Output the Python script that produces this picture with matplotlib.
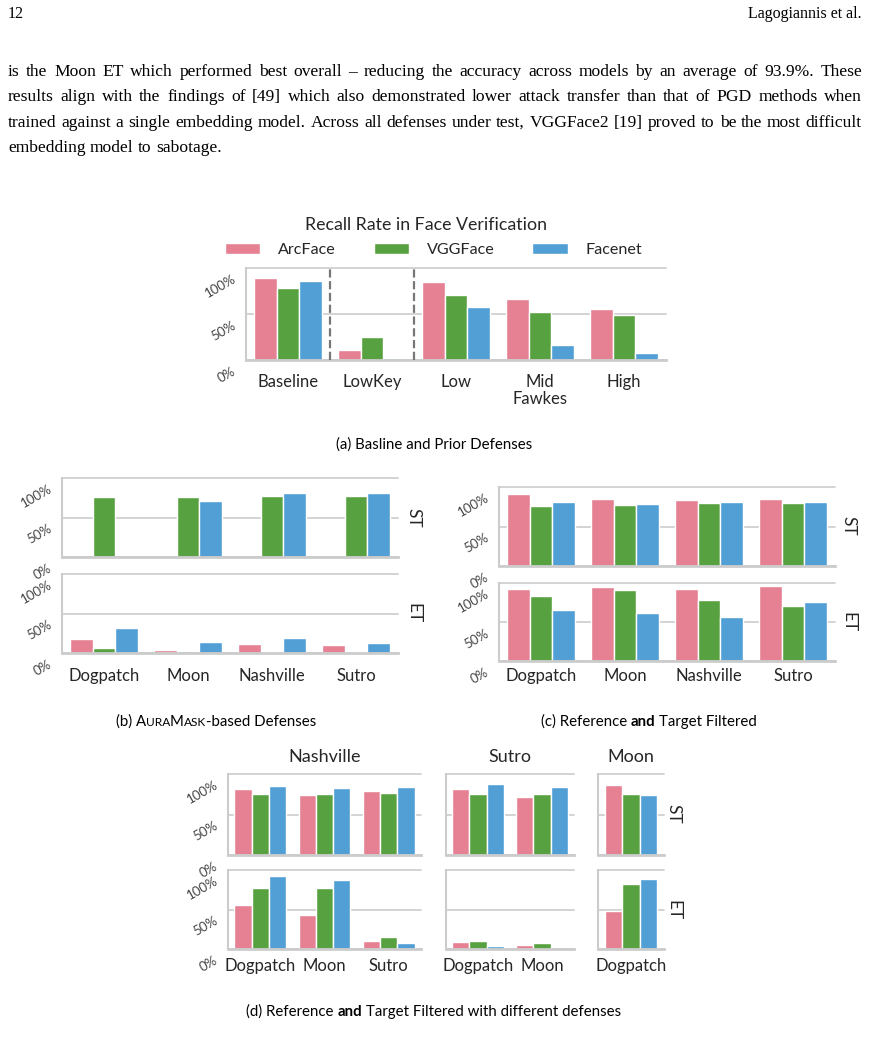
import matplotlib
matplotlib.use('Agg')
import matplotlib.pyplot as plt
from matplotlib.patches import Patch
from matplotlib.transforms import Affine2D, ScaledTranslation
import seaborn as sns
import numpy as np

W, H = 869, 1048
nan = np.nan

sns.set_style('whitegrid')
plt.rcParams['font.family'] = ['Lato', 'DejaVu Sans']
plt.rcParams['text.color'] = '.15'

models = ['ArcFace', 'VGGFace', 'Facenet']
palette = [sns.desaturate(c, 0.75) for c in sns.color_palette('husl', 3)]

# (a) baseline and prior defenses, rows: ArcFace, VGGFace, Facenet
a_cats = ['Baseline', 'LowKey', 'Low', 'Mid\nFawkes', 'High']
a_vals = [[0.89, 0.11, 0.85, 0.66, 0.555],
          [0.786, 0.25, 0.71, 0.525, 0.49],
          [0.862, 0.018, 0.58, 0.167, 0.076]]

# (b) AuraMask-based defenses
filters = ['Dogpatch', 'Moon', 'Nashville', 'Sutro']
b_st = [[nan, nan, nan, nan],
        [0.756, 0.763, 0.772, 0.768],
        [nan, 0.705, 0.806, 0.814]]
b_et = [[0.18, 0.042, 0.114, 0.101],
        [0.067, 0.021, 0.008, 0.017],
        [0.316, 0.143, 0.186, 0.122]]

# (c) reference and target filtered
c_st = [[0.91, 0.852, 0.831, 0.852],
        [0.755, 0.776, 0.793, 0.793],
        [0.814, 0.789, 0.806, 0.814]]
c_et = [[0.928, 0.945, 0.928, 0.958],
        [0.834, 0.907, 0.788, 0.706],
        [0.655, 0.617, 0.566, 0.753]]

# (d) reference and target filtered with different defenses
d_nash_cats = ['Dogpatch', 'Moon', 'Sutro']
d_nash_st = [[0.815, 0.737, 0.794], [0.757, 0.757, 0.769], [0.856, 0.823, 0.835]]
d_nash_et = [[0.559, 0.429, 0.105], [0.769, 0.777, 0.146], [0.92, 0.87, 0.076]]
d_sutro_cats = ['Dogpatch', 'Moon']
d_sutro_st = [[0.815, 0.716], [0.757, 0.757], [0.877, 0.835]]
d_sutro_et = [[0.083, 0.055], [0.096, 0.08], [0.042, nan]]
d_moon_cats = ['Dogpatch']
d_moon_st = [[0.864], [0.757], [0.737]]
d_moon_et = [[0.487], [0.828], [0.89]]

body = [
    "is the Moon ET which performed best overall \u2013 reducing the accuracy across models by an average of 93.9%. These",
    "results align with the findings of [49] which also demonstrated lower attack transfer than that of PGD methods when",
    "trained against a single embedding model. Across all defenses under test, VGGFace2 [19] proved to be the most difficult",
    "embedding model to sabotage.",
]

fig = plt.figure(figsize=(W / 100, H / 100), dpi=100)
renderer = fig.canvas.get_renderer()
# pixel coordinates, y going down
px = Affine2D().scale(1 / W, -1 / H).translate(0, 1) + fig.transFigure


def add_ax(l, t, r, b):
    return fig.add_axes([l / W, 1 - b / H, (r - l) / W, (b - t) / H])


def bars(ax, cats, series, xlabels=True, ylabels=True, xpad=8):
    x = np.arange(len(cats))
    w = 0.8 / 3
    for i, vals in enumerate(series):
        ax.bar(x + (i - 1) * w, vals, width=w, color=palette[i],
               edgecolor='white', linewidth=1, label=models[i], zorder=2)
    ax.set_xlim(-0.5, len(cats) - 0.5)
    ax.set_ylim(0, 1)
    ax.set_xticks(x)
    ax.set_xticklabels(cats if xlabels else [], fontsize=12, linespacing=1.1)
    ax.set_yticks([0, 0.5, 1])
    ax.set_yticklabels(['0%', '50%', '100%'] if ylabels else [], fontsize=9.5, color='#444')
    ax.grid(axis='x', visible=False)
    ax.grid(axis='y', color='.8', lw=1.2)
    for g in ax.yaxis.get_gridlines():
        g.set_clip_on(False)
    for s in ['top', 'right']:
        ax.spines[s].set_visible(False)
    ax.spines['left'].set_color('.8')
    ax.spines['left'].set_linewidth(1.5)
    ax.spines['bottom'].set_color('.8')
    ax.spines['bottom'].set_linewidth(2)
    ax.tick_params(axis='x', length=0, pad=xpad)
    ax.tick_params(axis='y', length=0, pad=6)
    off = ScaledTranslation(0, -5 / 100, fig.dpi_scale_trans)
    for lab in ax.get_yticklabels():
        lab.set_rotation(30)
        lab.set_ha('right')
        lab.set_va('top')
        lab.set_transform(lab.get_transform() + off)


def width_of(s, **kw):
    t = fig.text(0, 0, s, transform=px, **kw)
    w = t.get_window_extent(renderer).width
    t.remove()
    return w


def runs_text(x, y, runs, ha='center', **base):
    # runs: list of (text, extra props); ' ' means a plain space
    space = width_of('x x', **base) - width_of('xx', **base)
    items = []
    total = 0
    for s, props in runs:
        kw = dict(base, **props)
        if s == ' ':
            items.append((None, space, kw))
            total += space
        else:
            wd = width_of(s, **kw)
            items.append((s, wd, kw))
            total += wd
    xx = x - total / 2 if ha == 'center' else x
    for s, wd, kw in items:
        if s is not None:
            fig.text(xx, y, s, transform=px, ha='left', va='baseline', **kw)
        xx += wd


def justify(line, y, x0, x1, last=False, **kw):
    words = line.split(' ')
    ws = [width_of(w, **kw) for w in words]
    if last:
        gap = width_of('x x', **kw) - width_of('xx', **kw)
    else:
        gap = (x1 - x0 - sum(ws)) / (len(words) - 1)
    xx = x0
    for w, wd in zip(words, ws):
        fig.text(xx, y, w, transform=px, ha='left', va='baseline', **kw)
        xx += wd + gap


serif = dict(family=['Liberation Serif', 'DejaVu Serif'], color='black')

# page header and body text
fig.text(8, 18, '12', transform=px, ha='left', va='baseline', fontsize=11.5, **serif)
fig.text(862, 18, 'Lagogiannis et al.', transform=px, ha='right', va='baseline',
         fontsize=11.5, **serif)
for i, line in enumerate(body):
    justify(line, 76 + i * 25.3, 8, 862, last=(i == len(body) - 1), fontsize=12.6, **serif)

# (a)
ax_a = add_ax(246, 268, 666, 360)
bars(ax_a, a_cats, a_vals, xpad=10)
for xv in [0.5, 1.5]:
    ax_a.axvline(xv, color='#777', ls='--', lw=1.6, zorder=3)
fig.text(426, 225, 'Recall Rate in Face Verification', transform=px,
         ha='center', va='center', fontsize=12.8)
handles = [Patch(facecolor=c, edgecolor='white') for c in palette]
fig.legend(handles, models, loc='center', mode='expand', ncol=3, frameon=False,
           bbox_to_anchor=(225 / W, 1 - 258 / H, (642 - 225) / W, 16 / H),
           borderaxespad=0, borderpad=0, handlelength=2.2, handleheight=0.7,
           handletextpad=1.1, fontsize=11.6)

# (b)
ax_b1 = add_ax(62, 478, 398, 557)
bars(ax_b1, filters, b_st, xlabels=False)
ax_b2 = add_ax(62, 574, 398, 653)
bars(ax_b2, filters, b_et, xpad=11)
fig.text(413, 518, 'ST', transform=px, rotation=270, ha='center', va='center', fontsize=12.5)
fig.text(413, 613, 'ET', transform=px, rotation=270, ha='center', va='center', fontsize=12.5)

# (c)
ax_c1 = add_ax(499, 487, 835, 566)
bars(ax_c1, filters, c_st, xlabels=False)
ax_c2 = add_ax(499, 583, 835, 661)
bars(ax_c2, filters, c_et, xpad=5.3)
fig.text(848, 526, 'ST', transform=px, rotation=270, ha='center', va='center', fontsize=12.5)
fig.text(848, 622, 'ET', transform=px, rotation=270, ha='center', va='center', fontsize=12.5)

# (d)
cols = [(228, 421, 'Nashville', d_nash_cats, d_nash_st, d_nash_et),
        (446, 574, 'Sutro', d_sutro_cats, d_sutro_st, d_sutro_et),
        (598, 664, 'Moon', d_moon_cats, d_moon_st, d_moon_et)]
for j, (l, r, name, cats, st, et) in enumerate(cols):
    top = add_ax(l, 774, r, 855)
    bars(top, cats, st, xlabels=False, ylabels=(j == 0))
    bot = add_ax(l, 870, r, 949)
    bars(bot, cats, et, ylabels=(j == 0), xpad=6.8)
    fig.text((l + r) / 2, 757, name, transform=px, ha='center', va='center', fontsize=13)
fig.text(673, 814, 'ST', transform=px, rotation=270, ha='center', va='center', fontsize=12.5)
fig.text(673, 910, 'ET', transform=px, rotation=270, ha='center', va='center', fontsize=12.5)

# captions
cap = dict(fontsize=10.8, color='black')
sc = {'fontsize': 8.6}
runs_text(434, 449, [('(a) Basline and Prior Defenses', {})], **cap)
runs_text(216, 726, [('(b) A', {}), ('URA', sc), ('M', {}), ('ASK', sc),
                     ('-based Defenses', {})], **cap)
runs_text(649, 726, [('(c) Reference', {}), (' ', {}), ('and', {'fontweight': 'bold'}),
                     (' ', {}), ('Target Filtered', {})], **cap)
runs_text(434, 1016, [('(d) Reference', {}), (' ', {}), ('and', {'fontweight': 'bold'}),
                      (' ', {}), ('Target Filtered with different defenses', {})], **cap)

fig.savefig('out.png', dpi=100)
